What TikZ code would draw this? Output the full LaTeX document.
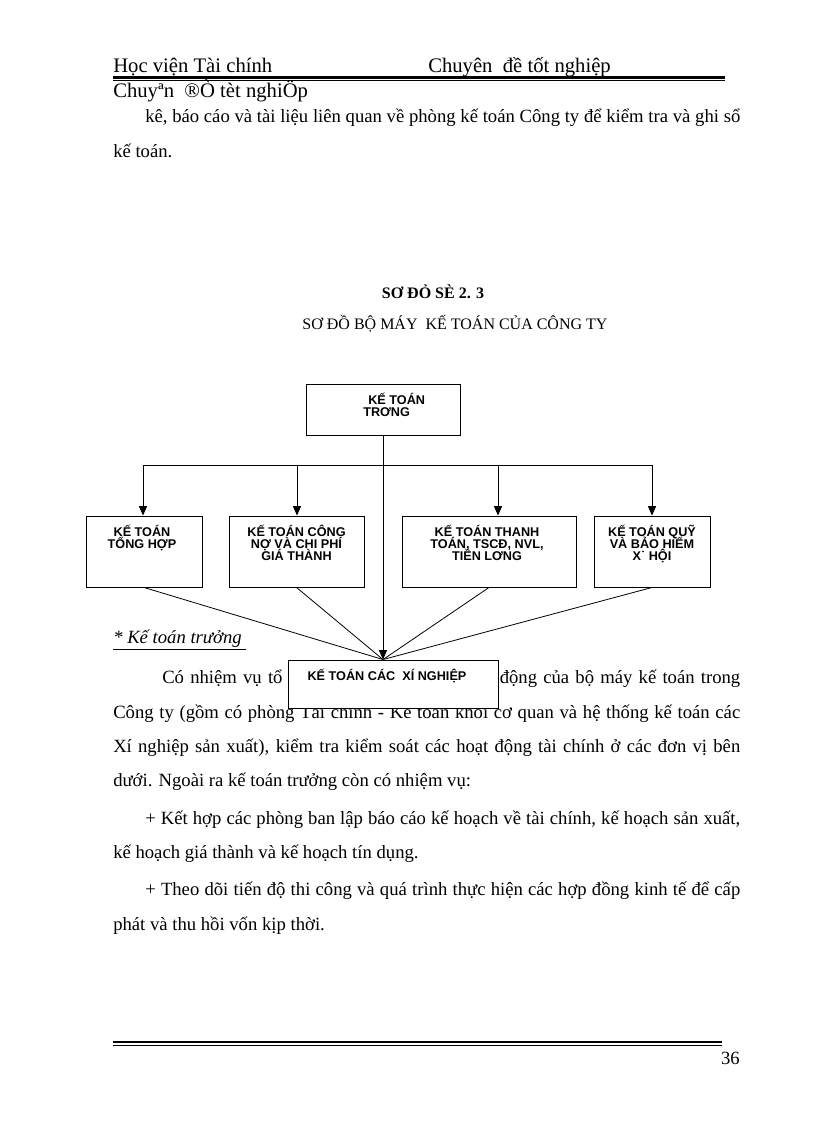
\documentclass[tikz,border=0pt]{standalone}
\usepackage{fontspec}
\setmainfont{Liberation Serif}
\newfontfamily\boxfont{Liberation Sans}
\usetikzlibrary{arrows.meta, positioning, calc}

\begin{document}
\begin{tikzpicture}[x=0.75pt, y=-0.75pt,
  txt/.style={anchor=base west, inner sep=0pt, font=\fontsize{14}{17}\selectfont},
  hdr/.style={anchor=base west, inner sep=0pt, font=\fontsize{15.5}{18}\selectfont},
  ttl/.style={anchor=base, inner sep=0pt, font=\fontsize{12}{14}\selectfont},
  box/.style={draw, line width=0.7pt, fill=white, inner sep=0pt},
  boxtext/.style={anchor=north, inner sep=0pt, align=center, font=\boxfont\bfseries\fontsize{9.5}{9.2}\selectfont,
    execute at begin node={\lineskiplimit=-20pt\relax}},
  link/.style={line width=0.6pt},
  arr/.style={link, -{Triangle[width=6pt,length=7pt]}}]
  \useasboundingbox (0,0) rectangle (816,1123);
  % header
  \node[hdr] (hleft) at (113,73) {Học viện Tài chính};
  \node[hdr] (hright) at (428,73) {Chuyên\ \ đề tốt nghiệp};
  \draw[line width=1.6pt] (113,77.5) -- (725,77.5);
  \draw[line width=0.6pt] (113,80.5) -- (725,80.5);
  \node[hdr] (hsub) at (113,98) {Chuyªn\ \ ®Ò tèt nghiÖp};
  % text above the chart
  \node[txt] (p1a) at (145,123) {\makebox[446.25pt][s]{kê, báo cáo và tài liệu liên quan về phòng kế toán Công ty để kiểm tra và ghi sổ}};
  \node[txt] (p1b) at (113,158) {kế toán.};
  % titles
  \node[ttl, font=\fontsize{12}{14}\selectfont\bfseries] (ttl1) at (433,298) {SƠ ĐỎ SÈ 2. 3};
  \node[ttl] (ttl2) at (455,329) {SƠ ĐỒ BỘ MÁY\ \ KẾ TOÁN CỦA CÔNG TY};
  % text below the chart
  \node[txt, font=\fontsize{14}{17}\selectfont\itshape] (head) at (113,643) {\underline{* Kế toán trưởng\ }};
  \node[txt] (q1) at (162,683) {\makebox[433.5pt][s]{Có nhiệm vụ tổ chức, chỉ đạo toàn bộ hoạt động của bộ máy kế toán trong}};
  \node[txt] (q2) at (113,718) {\makebox[470.25pt][s]{Công ty (gồm có phòng Tài chính - Kế toán khối cơ quan và hệ thống kế toán các}};
  \node[txt] (q3) at (113,752) {\makebox[470.25pt][s]{Xí nghiệp sản xuất), kiểm tra kiểm soát các hoạt động tài chính ở các đơn vị bên}};
  \node[txt] (q4) at (113,786) {dưới. Ngoài ra kế toán trưởng còn có nhiệm vụ:};
  \node[txt] (q5) at (145,824) {\makebox[446.25pt][s]{+ Kết hợp các phòng ban lập báo cáo kế hoạch về tài chính, kế hoạch sản xuất,}};
  \node[txt] (q6) at (113,858) {kế hoạch giá thành và kế hoạch tín dụng.};
  \node[txt] (q7) at (145,895) {\makebox[446.25pt][s]{+ Theo dõi tiến độ thi công và quá trình thực hiện các hợp đồng kinh tế để cấp}};
  \node[txt] (q8) at (113,930) {phát và thu hồi vốn kịp thời.};
  % boxes
  \node[box, minimum width=115.5pt, minimum height=38.25pt] (ktt) at (383,409.5) {};
  \node[box, minimum width=87pt, minimum height=53.25pt] (kt1) at (144,551.5) {};
  \node[box, minimum width=101.25pt, minimum height=53.25pt] (kt2) at (296.5,551.5) {};
  \node[box, minimum width=130.5pt, minimum height=53.25pt] (kt3) at (489,551.5) {};
  \node[box, minimum width=87pt, minimum height=53.25pt] (kt4) at (652,551.5) {};
  \node[box, minimum width=157.5pt, minimum height=36pt] (ktxn) at (393,684) {};
  % box texts
  \node[boxtext, anchor=north west, align=left] (ktt-t) at (363,393) {\hspace*{3.75pt}KẾ TOÁN\\TRƠNG};
  \node[boxtext] (kt1-t) at ($(kt1.north)+(-2,9)$) {KẾ TOÁN\\TỔNG HỢP};
  \node[boxtext] (kt2-t) at ($(kt2.north)+(0,9)$) {KẾ TOÁN CÔNG\\NỢ VÀ CHI PHÍ\\GIÁ THÀNH};
  \node[boxtext] (kt3-t) at ($(kt3.north)+(-2,9)$) {KẾ TOÁN THANH\\TOÁN, TSCĐ, NVL,\\TIỀN LƠNG};
  \node[boxtext] (kt4-t) at ($(kt4.north)+(0,9)$) {KẾ TOÁN QUỸ\\VÀ BẢO HIỂM\\X˙ HỘI};
  \node[boxtext] (ktxn-t) at ($(ktxn.north)+(-6,9)$) {KẾ TOÁN CÁC\ \ XÍ NGHIỆP};
  % connectors
  \coordinate (conv) at (ktt.south |- ktxn.north);
  \coordinate (d1) at (143,465);
  \coordinate (d2) at (297,465);
  \coordinate (d3) at (498,465);
  \coordinate (d4) at (652,465);
  \draw[link] (d1) -- (d4);
  \foreach \i in {1,...,4} {
    \draw[arr] (d\i) -- (d\i |- kt\i.north);
    \draw[link] (kt\i.south) -- (conv);
  }
  \draw[arr] (ktt.south) -- (conv);
  % footer
  \draw[line width=1.6pt] (113,1042) -- (722,1042);
  \draw[line width=0.6pt] (113,1045) -- (722,1045);
  \node[txt, anchor=base east] (pageno) at (740,1064) {36};
\end{tikzpicture}
\end{document}
